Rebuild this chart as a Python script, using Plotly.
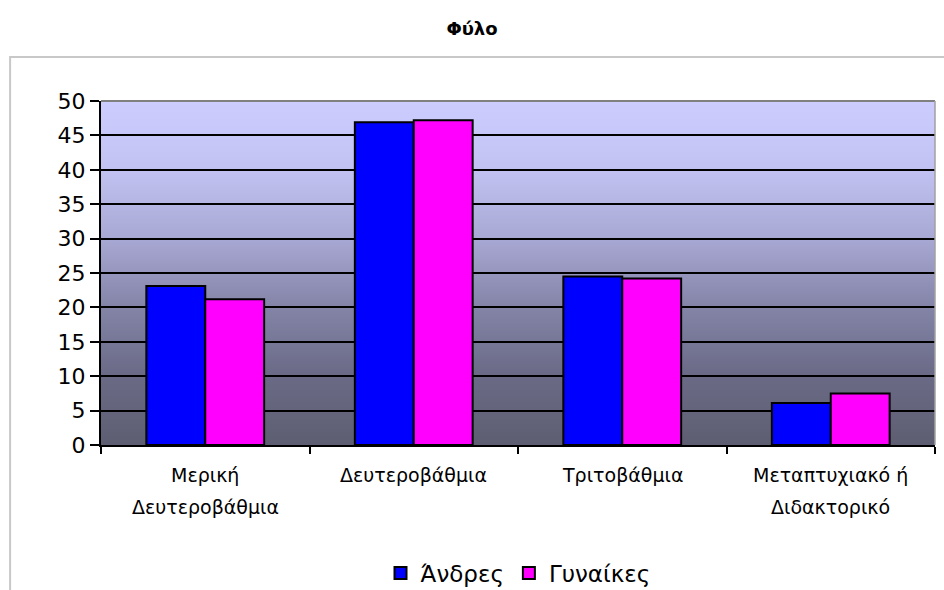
import base64
import struct
import zlib

import plotly.graph_objects as go

# Education level by sex (%)
categories = ["Μερική<br>Δευτεροβάθμια", "Δευτεροβάθμια", "Τριτοβάθμια", "Μεταπτυχιακό ή<br>Διδακτορικό"]
cat_keys = ["Μερική Δευτεροβάθμια", "Δευτεροβάθμια", "Τριτοβάθμια", "Μεταπτυχιακό ή Διδακτορικό"]
men = [23.1, 46.9, 24.5, 6.1]
women = [21.2, 47.2, 24.2, 7.5]
y_ticks = list(range(0, 51, 5))

FONT = "DejaVu Sans"

fig = go.Figure()
fig.add_trace(go.Bar(x=cat_keys, y=men, name="Άνδρες",
                     marker=dict(color="#0000FF", line=dict(color="#000000", width=2))))
fig.add_trace(go.Bar(x=cat_keys, y=women, name="Γυναίκες",
                     marker=dict(color="#FF00FF", line=dict(color="#000000", width=2))))

# vertical gradient for the plot-area background (fraction of height from bottom -> rgb)
stops = [(0.0, (94, 94, 114)), (0.2, (106, 106, 134)), (0.4, (132, 132, 168)),
         (0.6, (168, 168, 212)), (0.8, (194, 194, 242)), (1.0, (204, 204, 255))]


def color_at(f):
    for (a, ca), (b, cb) in zip(stops[:-1], stops[1:]):
        if a <= f <= b:
            t = (f - a) / (b - a)
            return tuple(round(ca[i] + t * (cb[i] - ca[i])) for i in range(3))
    return stops[-1][1]


def gradient_png(height=344):
    rows = b""
    for r in range(height):
        f = 1 - r / (height - 1)
        rows += b"\x00" + bytes(color_at(f))

    def chunk(tag, data):
        c = struct.pack(">I", len(data)) + tag + data
        return c + struct.pack(">I", zlib.crc32(tag + data) & 0xFFFFFFFF)

    png = b"\x89PNG\r\n\x1a\n"
    png += chunk(b"IHDR", struct.pack(">IIBBBBB", 1, height, 8, 2, 0, 0, 0))
    png += chunk(b"IDAT", zlib.compress(rows))
    png += chunk(b"IEND", b"")
    return "data:image/png;base64," + base64.b64encode(png).decode()


images = [dict(source=gradient_png(), xref="x domain", yref="y domain", x=0, y=1,
               sizex=1, sizey=1, sizing="stretch", xanchor="left", yanchor="top",
               layer="below")]

shapes = [
    # grey border on the top and right of the plot area
    dict(type="line", xref="x domain", yref="y domain", x0=0, x1=1, y0=1, y1=1,
         line=dict(color="#808080", width=2), layer="above"),
    dict(type="line", xref="x domain", yref="y domain", x0=1, x1=1, y0=0, y1=1,
         line=dict(color="#A0A0A0", width=1.5), layer="above"),
    # outer chart frame
    dict(type="rect", xref="paper", yref="paper", x0=-0.109, x1=1.05,
         y0=-0.5, y1=1.128, line=dict(color="#C8C8C8", width=2),
         fillcolor="rgba(0,0,0,0)", layer="below"),
]

# category labels, one annotation per text line
annotations = []
for key, label in zip(cat_keys, categories):
    for j, line in enumerate(label.split("<br>")):
        annotations.append(dict(x=key, xref="x", y=0, yref="paper", text=line,
                                showarrow=False, yanchor="middle", yshift=-30 - 32 * j,
                                font=dict(family=FONT, size=19, color="#000000")))

fig.update_layout(
    width=944, height=590,
    margin=dict(l=101, r=9, t=101, b=145, autoexpand=False),
    paper_bgcolor="#FFFFFF",
    plot_bgcolor="rgba(0,0,0,0)",
    barmode="group",
    bargap=0.435,
    bargroupgap=0,
    title=dict(text="<b>Φύλο</b>", x=0.5, xref="container", xanchor="center",
               y=1 - 29 / 590, yref="container", yanchor="middle",
               font=dict(family=FONT, size=18, color="#000000")),
    xaxis=dict(type="category", showticklabels=False, showgrid=False,
               ticks="outside", tickson="boundaries", ticklen=7, tickwidth=2,
               tickcolor="#000000", showline=True, linecolor="#000000", linewidth=2,
               zeroline=False),
    yaxis=dict(range=[0, 50], tickvals=y_ticks, ticks="outside", ticklen=9, tickwidth=2,
               tickcolor="#000000", showline=True, linecolor="#000000", linewidth=2,
               showgrid=True, gridcolor="#000000", gridwidth=2, zeroline=False,
               tickfont=dict(family=FONT, size=22, color="#000000")),
    legend=dict(orientation="h", x=0.5, xanchor="center", y=-0.372, yanchor="middle",
                font=dict(family=FONT, size=23, color="#000000"),
                bgcolor="rgba(0,0,0,0)", itemwidth=30),
    shapes=shapes,
    images=images,
    annotations=annotations,
    showlegend=True,
)

fig.write_html("out.html")
